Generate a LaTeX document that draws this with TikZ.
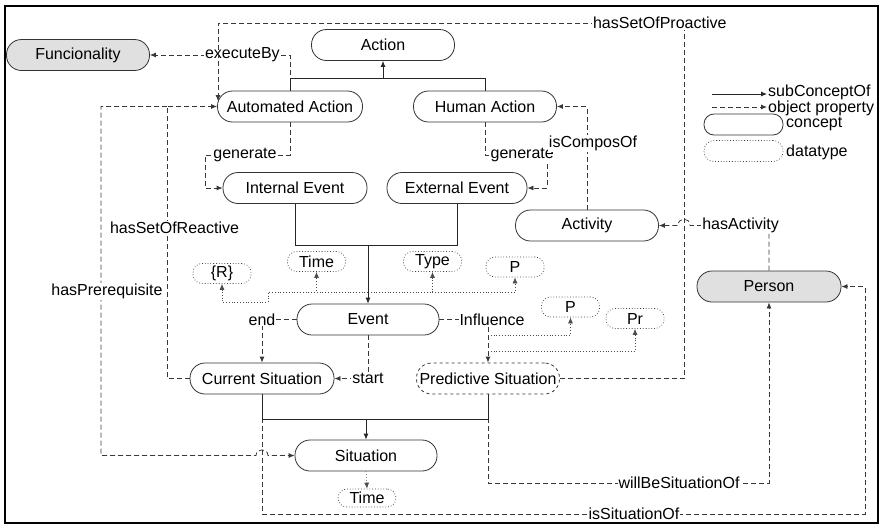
\documentclass[tikz,border=0pt]{standalone}
\usepackage{fontspec}
\setmainfont{Liberation Sans}
\usetikzlibrary{arrows.meta}
\begin{document}
\begin{tikzpicture}[x=1pt,y=-1pt,
  font=\fontsize{16}{19}\selectfont,
  concept/.style={draw=black!80, line width=0.8pt, fill=white, rounded corners=15pt,
    minimum height=31pt, minimum width=143pt, inner sep=0pt},
  greyconcept/.style={concept, fill=black!12},
  datat/.style={draw=black!75, line width=0.7pt, dash pattern=on 0.8pt off 2pt, fill=white,
    rounded corners=9pt, minimum height=20pt, minimum width=58pt, inner sep=0pt},
  tip/.style={-{Latex[length=6pt,width=5pt]}},
  sub/.style={draw=black!85, line width=0.8pt, tip},
  prop/.style={draw=black!78, line width=0.8pt, dash pattern=on 5pt off 3pt, tip},
  attr/.style={draw=black!70, line width=0.7pt, dash pattern=on 0.8pt off 2pt, tip},
  lbl/.style={fill=white, inner sep=1pt},
]
\useasboundingbox (0,0) rectangle (885,528);
\draw[line width=2pt] (5,6) rectangle (878,523);

% concepts
\node[greyconcept] (func) at (78,55) {Funcionality};
\node[concept] (action) at (383,45) {Action};
\node[concept, minimum width=145pt] (auto) at (290,106.5) {Automated Action};
\node[concept] (human) at (485,106.5) {Human Action};
\node[concept, minimum width=144pt] (ie) at (295,188) {Internal Event};
\node[concept, minimum width=140pt] (ee) at (457,188) {External Event};
\node[concept] (activity) at (587,225.5) {Activity};
\node[greyconcept, minimum width=144pt] (person) at (769,286.5) {Person};
\node[concept, minimum width=142pt] (event) at (368,319.5) {Event};
\node[concept, minimum width=144pt] (cur) at (262,378.5) {Current Situation};
\node[concept, dashed] (pred) at (488,378.5) {Predictive Situation};
\node[concept, minimum width=142pt] (sit) at (366,455.5) {Situation};

% datatypes
\node[datat] (time1) at (316.5,261.5) {Time};
\node[datat] (type) at (432.5,261.5) {Type};
\node[datat] (r) at (222,273.5) {\{R\}};
\node[datat] (p1) at (515,267) {P};
\node[datat] (p2) at (570.5,307) {P};
\node[datat] (pr) at (635,318.5) {Pr};
\node[datat, minimum height=18pt] (time2) at (367,498) {Time};

% junction points
\coordinate (aj) at (383,78);
\coordinate (ej) at (368,245);
\coordinate (sj) at (366,419);
\coordinate (ea) at (368,292);
\coordinate (ia) at (488,335);
\coordinate (ib) at (488,351);
\coordinate (rj) at (167,106.5);
\coordinate (autoTL) at ([shift={(-72,-5.5)}]auto.center);
\coordinate (wb) at (679,483);
\coordinate (iso) at (634,514);
\coordinate (pe) at (865,286.5);

% object properties
\draw[prop] (auto.north) |- node[lbl, pos=0.67] {executeBy} (func.east);
\draw[prop] (pred.east) -| (684,23) -| node[lbl, pos=0.026] {hasSetOfProactive} (autoTL);
\draw[prop] (auto.south) |- node[lbl, pos=0.765] {generate} (205,155) |- (ie.west);
\draw[prop] (human.south) |- node[lbl, pos=0.8] {generate} (547,155) |- (ee.east);
\draw[prop] (activity.north) |- node[lbl, pos=0.32, xshift=6pt] {isComposOf} (human.east);
\draw[prop] (person.north) |- node[lbl, pos=0.68] {hasActivity} (690,225.5)
  .. controls (690,217) and (678,217) .. (678,225.5) -- (activity.east);
\draw[prop] (cur.west) -| node[lbl, pos=0.777, xshift=7.5pt] {hasSetOfReactive} (rj) -- (auto.west);
\draw[prop] (rj) -- (101,106.5) -- node[lbl, pos=0.53, xshift=6pt] {hasPrerequisite} (101,455.5)
  -- (256,455.5) .. controls (256,448) and (268,448) .. (268,455.5) -- (sit.west);
\draw[prop] (event.west) -| node[lbl, pos=0.5] {end} (cur.north);
\draw[prop] (event.south) |- node[lbl, pos=0.5] {start} (cur.east);
\draw[prop] (event.east) -| node[lbl, pos=0.5, xshift=4pt] {Influence} (pred.north);
\draw[prop] (pred.south) |- (wb) node[lbl] {willBeSituationOf} -| (person.south);
\draw[prop] (cur.south) |- (iso) node[lbl] {isSituationOf} -| (pe) -- (person.east);

% datatype properties
\draw[attr] (ea) -| (time1.south);
\draw[attr] (ea) -| (type.south);
\draw[attr] (ea) -| (p1.south);
\draw[attr] (ea) -- (268,292) -- (268,302) -| (r.south);
\draw[attr] (ia) -| (p2.south);
\draw[attr] (ib) -| (pr.south);
\draw[attr] (sit.south) -- (time2.north);

% sub-concept hierarchy
\draw[draw=black!85, line width=0.8pt] (auto.north) -- (auto.north |- aj) -- (human.north |- aj) -- (human.north);
\draw[sub] (aj) -- (action.south);
\draw[draw=black!85, line width=0.8pt] (ie.south) -- (ie.south |- ej) -- (ee.south |- ej) -- (ee.south);
\draw[sub] (ej) -- (event.north);
\draw[draw=black!85, line width=0.8pt] (cur.south) -- (cur.south |- sj) -- (pred.south |- sj) -- (pred.south);
\draw[sub] (sj) -- (sit.north);

% legend
\coordinate (l1a) at (712,94);
\coordinate (l1b) at (767,94);
\coordinate (l2a) at (712,107);
\coordinate (l2b) at (767,107);
\draw[sub] (l1a) -- (l1b);
\draw[prop] (l2a) -- (l2b);
\node[anchor=base west, inner sep=0pt] (lsub) at (768,96.5) {subConceptOf};
\node[anchor=base west, inner sep=0pt] (lobj) at (768,112) {object property};
\node[concept, minimum width=79pt, minimum height=21pt, rounded corners=10pt] (lcon) at (743.5,124.5) {};
\node[anchor=west, inner sep=0pt] (lcont) at (786,124) {concept};
\node[datat, minimum width=79pt, minimum height=21pt, rounded corners=10pt] (ldat) at (743.5,151) {};
\node[anchor=west, inner sep=0pt] (ldatt) at (786,152) {datatype};
\end{tikzpicture}
\end{document}
